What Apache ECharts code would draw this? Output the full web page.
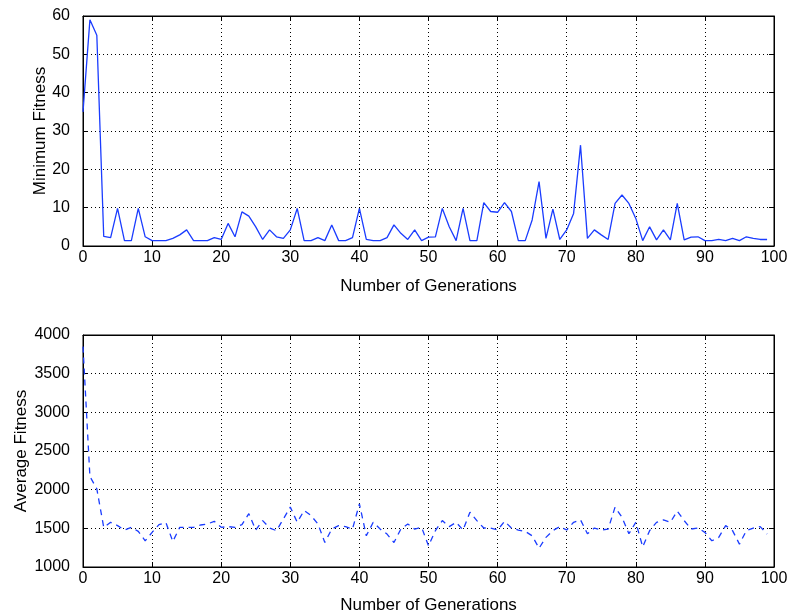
<!DOCTYPE html>
<html>
<head>
<meta charset="utf-8">
<script src="https://cdn.jsdelivr.net/npm/echarts@6/dist/echarts.min.js"></script>
<style>html,body{margin:0;padding:0;background:#fff}#c{width:794px;height:616px}</style>
</head>
<body>
<div id="c"></div>
<script>
const generations = [0,1,2,3,4,5,6,7,8,9,10,11,12,13,14,15,16,17,18,19,20,21,22,23,24,25,26,27,28,29,30,31,32,33,34,35,36,37,38,39,40,41,42,43,44,45,46,47,48,49,50,51,52,53,54,55,56,57,58,59,60,61,62,63,64,65,66,67,68,69,70,71,72,73,74,75,76,77,78,79,80,81,82,83,84,85,86,87,88,89,90,91,92,93,94,95,96,97,98,99];
const minFitness = [35,59,55,2.5,2.2,9.8,1.4,1.4,9.8,2.4,1.4,1.4,1.4,2,2.9,4.2,1.4,1.4,1.4,2.2,1.7,5.9,2.4,8.9,7.8,5,1.7,4.2,2.4,2,4.2,9.8,1.4,1.4,2.2,1.4,5.5,1.4,1.4,2.2,9.8,1.7,1.4,1.4,2.2,5.5,3.3,1.7,4.2,1.4,2.3,2.4,9.8,5,1.4,9.8,1.4,1.4,11.3,9,8.8,11.3,9,1.4,1.4,6.8,16.8,2,9.6,1.7,4.2,8.5,26.3,2,4.2,2.9,1.7,11.1,13.3,11.1,7.2,1.4,5,1.6,4.2,1.6,11.1,1.6,2.3,2.4,1.4,1.4,1.7,1.4,2,1.4,2.4,2,1.7,1.7];
const avgFitness = [3850,2170,2010,1513,1578,1535,1478,1513,1460,1339,1448,1548,1574,1330,1513,1513,1513,1543,1556,1591,1513,1522,1513,1548,1690,1478,1600,1504,1470,1622,1774,1578,1730,1665,1557,1317,1491,1535,1522,1491,1817,1404,1578,1491,1426,1317,1491,1557,1490,1513,1274,1470,1600,1522,1578,1478,1709,1600,1504,1504,1478,1591,1504,1478,1461,1404,1243,1383,1470,1522,1478,1578,1609,1430,1504,1478,1491,1774,1643,1430,1578,1261,1470,1578,1609,1578,1722,1600,1491,1504,1448,1339,1383,1535,1470,1296,1470,1504,1522,1426];
const xTicks = [0,10,20,30,40,50,60,70,80,90,100];
const minTicks = [0,10,20,30,40,50,60];
const avgTicks = [1000,1500,2000,2500,3000,3500,4000];

const FONT = 'Liberation Sans';
const black = '#000';
const gridLine = {show:true, lineStyle:{color:black, type:[1,3], width:1}};
function xAx(gi, main, name, gap){
  return {type:'value', gridIndex:gi, min:xTicks[0], max:xTicks[xTicks.length-1], interval:10,
    position: main ? 'bottom' : 'top',
    name: main ? name : '', nameLocation:'middle', nameGap:gap,
    nameTextStyle:{fontFamily:FONT, fontSize:17, color:black},
    axisLine:{show:true, onZero:false, lineStyle:{color:black, width:1}},
    axisTick:{show:true, inside:true, length:5, lineStyle:{color:black}},
    axisLabel:{show:main, fontFamily:FONT, fontSize:16, color:black, margin:4, formatter:v=>String(v)},
    splitLine: main ? gridLine : {show:false}};
}
function yAx(gi, main, ticks, name, gap){
  return {type:'value', gridIndex:gi, min:ticks[0], max:ticks[ticks.length-1], interval:ticks[1]-ticks[0],
    position: main ? 'left' : 'right',
    name: main ? name : '', nameLocation:'middle', nameGap:gap, nameMoveOverlap:false,
    nameTextStyle:{fontFamily:FONT, fontSize:17, color:black},
    axisLine:{show:true, onZero:false, lineStyle:{color:black, width:1}},
    axisTick:{show:true, inside:true, length:5, lineStyle:{color:black}},
    axisLabel:{show:main, fontFamily:FONT, fontSize:16, color:black, margin:13, formatter:v=>String(v)},
    splitLine: main ? gridLine : {show:false}};
}
const chart = echarts.init(document.getElementById('c'), null, {renderer:'canvas'});
chart.setOption({
  backgroundColor:'#fff',
  animation:false,
  grid:[
    {left:83, right:20, top:16, height:230, show:true, borderColor:black, borderWidth:1, backgroundColor:'transparent', containLabel:false, outerBoundsMode:'none'},
    {left:83, right:20, top:335, height:232, show:true, borderColor:black, borderWidth:1, backgroundColor:'transparent', containLabel:false, outerBoundsMode:'none'}
  ],
  xAxis:[xAx(0,true,'Number of Generations',32), xAx(0,false), xAx(1,true,'Number of Generations',30), xAx(1,false)],
  yAxis:[yAx(0,true,minTicks,'Minimum Fitness',34), yAx(0,false,minTicks), yAx(1,true,avgTicks,'Average Fitness',53), yAx(1,false,avgTicks)],
  series:[
    {type:'line', xAxisIndex:0, yAxisIndex:0, symbol:'none', data:generations.map((g,i)=>[g,minFitness[i]]),
      lineStyle:{color:'#1a3cff', width:1.3}},
    {type:'line', xAxisIndex:2, yAxisIndex:2, symbol:'none', data:generations.map((g,i)=>[g,avgFitness[i]]),
      lineStyle:{color:'#1a3cff', width:1.3, type:[6,5]}}
  ]
});
</script>
</body>
</html>
